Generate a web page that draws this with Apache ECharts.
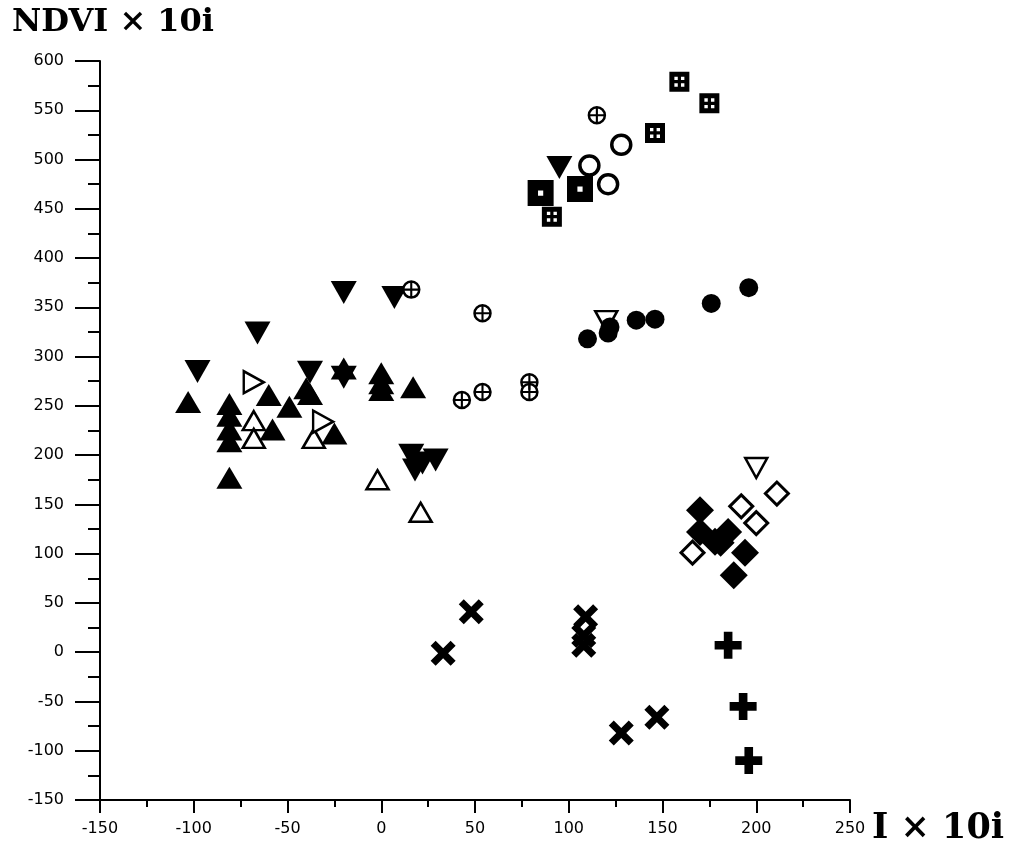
<!DOCTYPE html>
<html>
<head>
<meta charset="utf-8">
<script src="https://cdn.jsdelivr.net/npm/echarts@6/dist/echarts.min.js"></script>
<style>
html,body{margin:0;padding:0;background:#fff;}
#chart{width:1011px;height:867px;}
</style>
</head>
<body>
<div id="chart"></div>
<script>
// ---- data (x = I×10i, y = NDVI×10i) ----
var xTicks = [-150, 250, 50];
var yTicks = [-150, 600, 50];
var triUpFilled = [[-103,254],[-60,261],[-40,268],[-20,288],[0,283],[0,273],[0,266],[17,269],[-81,252],[-81,240],[-81,226],[-81,214],[-81,177],[-58,226],[-49,249],[-25,222],[-38,262]];
var triDownFilled = [[-20,365],[7,360],[-66,324],[-98,285],[-38,284],[-20,279],[95,492],[16,200],[22,192],[29,195],[18,185]];
var triUpOpen = [[-68,235],[-68,217],[-2,175],[21,142],[-36,217]];
var triRightOpen = [[-68,274],[-31,234]];
var triDownOpen = [[200,187],[120,336]];
var circleCross = [[115,545],[16,368],[54,344],[43,256],[54,264],[79,274],[79,264]];
var circleOpen = [[111,494],[128,515],[121,475]];
var squareHole = [[85,466],[106,470]];
var squareDots = [[159,579],[175,557],[146,527],[91,442]];
var circleDark = [[110,318],[121,324],[122,330],[136,337],[146,338],[176,354],[196,370]];
var diamondFilled = [[170,144],[170,122],[185,122],[181,111],[194,101],[188,78],[178,112]];
var diamondOpen = [[211,161],[192,148],[200,131],[166,101]];
var crossX = [[48,41],[33,-1],[109,36],[108,17],[108,7],[128,-82],[147,-66]];
var plusMark = [[185,7],[193,-55],[196,-110]];

var P = {
  triDown: 'path://M0,0 L10,0 L5,9 Z',
  triRight: 'path://M0,0 L9,5 L0,10 Z',
  squareHole: 'path://M0,0 L10,0 L10,10 L0,10 Z M4,4 L4,6 L6,6 L6,4 Z',
  squareDots: 'path://M0,0 L10,0 L10,10 L0,10 Z M2.5,2.5 L2.5,4.2 L4.2,4.2 L4.2,2.5 Z M5.8,2.5 L5.8,4.2 L7.5,4.2 L7.5,2.5 Z M2.5,5.8 L2.5,7.5 L4.2,7.5 L4.2,5.8 Z M5.8,5.8 L5.8,7.5 L7.5,7.5 L7.5,5.8 Z',
  cross: 'path://M0,2 L2,0 L5,3 L8,0 L10,2 L7,5 L10,8 L8,10 L5,7 L2,10 L0,8 L3,5 Z',
  plus: 'path://M3.4,0 L6.6,0 L6.6,3.4 L10,3.4 L10,6.6 L6.6,6.6 L6.6,10 L3.4,10 L3.4,6.6 L0,6.6 L0,3.4 L3.4,3.4 Z',
  thinPlus: 'path://M4.3,0 L5.7,0 L5.7,4.3 L10,4.3 L10,5.7 L5.7,5.7 L5.7,10 L4.3,10 L4.3,5.7 L0,5.7 L0,4.3 L4.3,4.3 Z'
};

function filled(data, symbol, size) {
  return {type:'scatter', data:data, symbol:symbol, symbolSize:size,
    itemStyle:{color:'#000', opacity:1}, emphasis:{disabled:true}, silent:true};
}
function open(data, symbol, size, bw) {
  return {type:'scatter', data:data, symbol:symbol, symbolSize:size,
    itemStyle:{color:'#fff', borderColor:'#000', borderWidth:bw, opacity:1}, emphasis:{disabled:true}, silent:true};
}

var chart = echarts.init(document.getElementById('chart'), null, {renderer:'canvas'});
var axisFont = {color:'#000', fontFamily:'"DejaVu Sans", sans-serif', fontSize:16};
chart.setOption({
  animation:false,
  backgroundColor:'#fff',
  grid:{left:100, right:161, top:61, bottom:67, containLabel:false},
  xAxis:{type:'value', min:xTicks[0], max:xTicks[1], interval:xTicks[2],
    axisLine:{show:true, onZero:false, lineStyle:{color:'#000', width:2}},
    axisTick:{show:true, inside:false, length:13, lineStyle:{color:'#000', width:2}},
    minorTick:{show:true, splitNumber:2, length:7, lineStyle:{color:'#000', width:2}},
    splitLine:{show:false},
    axisLabel:Object.assign({margin:21}, axisFont)},
  yAxis:{type:'value', min:yTicks[0], max:yTicks[1], interval:yTicks[2],
    axisLine:{show:true, onZero:false, lineStyle:{color:'#000', width:2}},
    axisTick:{show:true, inside:false, length:25, lineStyle:{color:'#000', width:2}},
    minorTick:{show:true, splitNumber:2, length:12, lineStyle:{color:'#000', width:2}},
    splitLine:{show:false},
    axisLabel:Object.assign({margin:36}, axisFont)},
  graphic:[
    {type:'text', left:12, top:7, style:{text:'NDVI × 10i', font:'bold 32px "DejaVu Serif"', fill:'#000'}},
    {type:'text', left:872, top:811, style:{text:'I × 10i', font:'bold 35px "DejaVu Serif"', fill:'#000'}}
  ],
  series:[
    filled(triUpFilled, 'triangle', [26,22]),
    filled(triDownFilled, P.triDown, [26,23]),
    open(triUpOpen, 'triangle', [22,19], 2.5),
    open(triRightOpen, P.triRight, [20,22], 2.5),
    open(triDownOpen, P.triDown, [22,20], 2.5),
    open(circleCross, 'circle', 16, 2.5),
    filled(circleCross, P.thinPlus, 15),
    open(circleOpen, 'circle', 19, 3.5),
    filled(squareHole, P.squareHole, 26),
    filled(squareDots, P.squareDots, 20),
    filled(circleDark, 'circle', 19),
    filled(diamondFilled, 'diamond', [28,28]),
    open(diamondOpen, 'diamond', [23,23], 3),
    filled(crossX, P.cross, 25),
    filled(plusMark, P.plus, 27)
  ]
});
</script>
</body>
</html>
